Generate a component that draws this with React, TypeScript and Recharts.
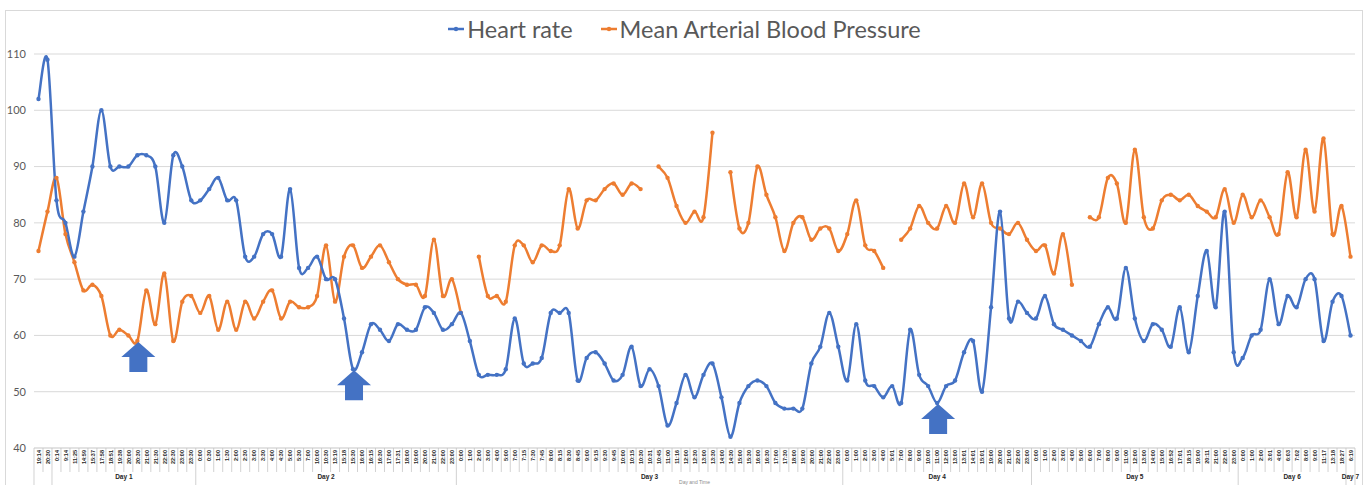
import React from 'react';
import {
  LineChart,
  Line,
  XAxis,
  YAxis,
  CartesianGrid,
  ReferenceDot,
} from 'recharts';

// time labels, grouped by day (first group has no day label)
const TIMES_D0 = ['19:14', '20:30'];
const TIMES_D1 = ['0:14', '9:14', '11:25', '14:59', '15:37', '17:58', '18:51', '19:38', '20:00', '20:30', '21:00', '21:30', '22:00', '22:30', '23:00', '23:30'];
const TIMES_D2 = ['0:00', '0:30', '1:00', '1:30', '2:00', '2:30', '3:00', '3:30', '4:00', '4:30', '5:00', '5:30', '7:00', '10:00', '10:30', '13:19', '15:18', '15:30', '16:00', '16:15', '16:30', '17:00', '17:31', '18:00', '19:00', '20:00', '21:00', '22:00', '23:00'];
const TIMES_D3 = ['0:00', '1:00', '2:00', '3:00', '4:00', '5:00', '7:00', '7:15', '7:30', '7:45', '8:00', '8:15', '8:30', '8:45', '9:00', '9:15', '9:30', '9:45', '10:00', '10:15', '10:30', '10:31', '10:45', '11:00', '11:16', '12:00', '12:30', '13:00', '13:30', '14:00', '14:30', '15:00', '15:30', '16:00', '16:30', '17:00', '17:30', '18:00', '19:00', '20:00', '21:00', '22:00', '23:00'];
const TIMES_D4 = ['0:00', '1:00', '2:00', '3:00', '4:00', '5:01', '7:00', '8:00', '9:00', '10:00', '11:00', '12:00', '13:00', '13:01', '14:01', '15:01', '19:00', '20:00', '21:00', '22:00', '23:00'];
const TIMES_D5 = ['0:00', '1:00', '2:00', '3:00', '4:00', '5:00', '6:00', '7:00', '8:00', '9:00', '11:00', '12:00', '13:00', '14:00', '15:00', '16:52', '17:01', '18:15', '19:00', '20:11', '21:00', '22:00', '23:00'];
const TIMES_D6 = ['0:00', '1:00', '2:00', '3:01', '4:00', '6:03', '7:02', '8:00', '9:00', '11:17', '13:18', '18:27'];
const TIMES_D7 = ['6:19'];

const DAY_NAMES = ['', 'Day 1', 'Day 2', 'Day 3', 'Day 4', 'Day 5', 'Day 6', 'Day 7'];
const DAY_TIMES = [TIMES_D0, TIMES_D1, TIMES_D2, TIMES_D3, TIMES_D4, TIMES_D5, TIMES_D6, TIMES_D7];

const HEART_RATE = [
  102, 109, 84, 80, 74, 82, 90, 100, 90, 90,
  90, 92, 92, 90, 80, 92, 90, 84, 84, 86,
  88, 84, 84, 74, 74, 78, 78, 74, 86, 72,
  72, 74, 70, 70, 63, 54, 57, 62, 61, 59,
  62, 61, 61, 65, 64, 61, 62, 64, 59, 53,
  53, 53, 54, 63, 55, 55, 56, 64, 64, 64,
  52, 56, 57, 55, 52, 53, 58, 51, 54, 51,
  44, 48, 53, 49, 53, 55, 49, 42, 48, 51,
  52, 51, 48, 47, 47, 47, 55, 58, 64, 58,
  52, 62, 52, 51, 49, 51, 48, 61, 53, 51,
  48, 51, 52, 57, 59, 50, 65, 82, 63, 66,
  64, 63, 67, 62, 61, 60, 59, 58, 62, 65,
  63, 72, 63, 59, 62, 61, 58, 65, 57, 67,
  75, 65, 82, 57, 56, 60, 61, 70, 62, 67,
  65, 70, 70, 59, 66, 67, 60,
];

const MEAN_ARTERIAL = [
  75, 82, 88, 78, 73, 68, 69, 67, 60, 61,
  60, 59, 68, 62, 71, 59, 66, 67, 64, 67,
  61, 66, 61, 66, 63, 66, 68, 63, 66, 65,
  65, 67, 76, 66, 74, 76, 72, 74, 76, 73,
  70, 69, 69, 67, 77, 67, 70, 64, null, 74,
  67, 67, 66, 76, 76, 73, 76, 75, 76, 86,
  79, 84, 84, 86, 87, 85, 87, 86, null, 90,
  88, 83, 80, 82, 81, 96, null, 89, 79, 80,
  90, 85, 81, 75, 80, 81, 77, 79, 79, 75,
  78, 84, 76, 75, 72, null, 77, 79, 83, 80,
  79, 83, 80, 87, 81, 87, 80, 79, 78, 80,
  77, 75, 76, 71, 78, 69, null, 81, 81, 88,
  87, 80, 93, 81, 79, 84, 85, 84, 85, 83,
  82, 81, 86, 80, 85, 81, 84, 81, 78, 89,
  81, 93, 82, 95, 78, 83, 74,
];

const Y_TICKS = [40, 50, 60, 70, 80, 90, 100, 110];

// arrow annotations (index, value)
const ARROWS = [
  { i: 11, v: 59 },
  { i: 35, v: 54 },
  { i: 100, v: 48 },
];

const BLUE = '#4472C4';
const ORANGE = '#ED7D31';

const W = 1369;
const H = 485;
const PLOT_LEFT = 34;
const PLOT_RIGHT = 1355;
const PLOT_TOP = 54;
const AXIS_H = 37;
const PLOT_BOTTOM = H - AXIS_H;

const TIMES = DAY_TIMES.flat();
const N = TIMES.length;
const BAND = (PLOT_RIGHT - PLOT_LEFT) / N;

const groupOf: number[] = [];
const groupStart: number[] = [];
DAY_TIMES.forEach((g, gi) => {
  groupStart.push(groupOf.length);
  g.forEach(() => groupOf.push(gi));
});

const data = TIMES.map((t, i) => ({
  id: i,
  time: t,
  hr: HEART_RATE[i],
  map: MEAN_ARTERIAL[i],
}));

// Excel-like smoothing (catmull-rom style bezier)
const excelSmooth = (context: any) => {
  let pts: number[][] = [];
  return {
    areaStart() {},
    areaEnd() {},
    lineStart() {
      pts = [];
    },
    point(x: number, y: number) {
      pts.push([+x, +y]);
    },
    lineEnd() {
      if (!pts.length) return;
      context.moveTo(pts[0][0], pts[0][1]);
      if (pts.length === 1) {
        context.lineTo(pts[0][0], pts[0][1]);
        return;
      }
      for (let k = 0; k < pts.length - 1; k++) {
        const p0 = pts[k - 1] || pts[k];
        const p1 = pts[k];
        const p2 = pts[k + 1];
        const p3 = pts[k + 2] || p2;
        context.bezierCurveTo(
          p1[0] + (p2[0] - p0[0]) / 6,
          p1[1] + (p2[1] - p0[1]) / 6,
          p2[0] - (p3[0] - p1[0]) / 6,
          p2[1] - (p3[1] - p1[1]) / 6,
          p2[0],
          p2[1]
        );
      }
    },
  };
};

const AxisTick = (props: any) => {
  const { x, payload } = props;
  const i = payload.value as number;
  const left = x - BAND / 2;
  const g = groupOf[i];
  const isStart = groupStart[g] === i;
  const size = DAY_TIMES[g].length;
  return (
    <g>
      <line x1={left} x2={left} y1={PLOT_BOTTOM} y2={isStart ? H : 472} stroke="#bfbfbf" strokeWidth={0.7} />
      {i === N - 1 && (
        <line x1={x + BAND / 2} x2={x + BAND / 2} y1={PLOT_BOTTOM} y2={H} stroke="#bfbfbf" strokeWidth={0.7} />
      )}
      <text
        transform={`translate(${x + 2.2},${PLOT_BOTTOM + 2}) rotate(-90)`}
        textAnchor="end"
        fontSize={5.5}
        fontWeight={700}
        fill="#262626"
        fontFamily="Liberation Sans, Arial"
      >
        {TIMES[i]}
      </text>
      {isStart && DAY_NAMES[g] && (
        <text
          x={left + (size * BAND) / 2}
          y={479}
          textAnchor="middle"
          fontSize={6.5}
          fontWeight={700}
          fill="#262626"
          fontFamily="Liberation Sans, Arial"
        >
          {DAY_NAMES[g]}
        </text>
      )}
    </g>
  );
};

const Arrow = (props: any) => {
  const { cx, cy } = props;
  const tx = cx + 1;
  const ty = cy + 1;
  const pts = [
    [0, 0], [17, 15], [9, 15], [9, 30], [-9, 30], [-9, 15], [-17, 15],
  ]
    .map(([dx, dy]) => `${tx + dx},${ty + dy}`)
    .join(' ');
  return <polygon points={pts} fill={BLUE} />;
};

const LegendIcon = ({ color }: { color: string }) => (
  <svg width={16} height={10} style={{ marginRight: 3 }}>
    <line x1={0} x2={16} y1={5} y2={5} stroke={color} strokeWidth={2.5} />
    <circle cx={8} cy={5} r={2.2} fill={color} />
  </svg>
);

const App = () => {
  return (
    <div style={{ position: 'absolute', left: 0, top: 0, width: W, height: H, background: '#fff', overflow: 'hidden' }}>
      <div
        style={{
          position: 'absolute',
          left: 5,
          top: 10,
          width: 1356,
          height: 490,
          border: '1px solid #d9d9d9',
          pointerEvents: 'none',
        }}
      />
      <div
        style={{
          position: 'absolute',
          top: 15,
          left: 0,
          width: W,
          display: 'flex',
          justifyContent: 'center',
          alignItems: 'center',
          fontFamily: 'Lato, sans-serif',
          fontSize: 23.5,
          lineHeight: '28px',
          color: '#595959',
        }}
      >
        <span style={{ display: 'flex', alignItems: 'center', marginRight: 28 }}>
          <LegendIcon color={BLUE} />
          Heart rate
        </span>
        <span style={{ display: 'flex', alignItems: 'center' }}>
          <LegendIcon color={ORANGE} />
          Mean Arterial Blood Pressure
        </span>
      </div>
      <LineChart
        width={W}
        height={H}
        data={data}
        margin={{ top: PLOT_TOP, right: W - PLOT_RIGHT, bottom: 0, left: 0 }}
        style={{ position: 'absolute', left: 0, top: 0 }}
      >
        <CartesianGrid vertical={false} stroke="#d9d9d9" />
        <XAxis
          dataKey="id"
          scale="band"
          interval={0}
          height={AXIS_H}
          tickLine={false}
          axisLine={{ stroke: '#d9d9d9' }}
          tick={<AxisTick />}
          label={{
            value: 'Day and Time',
            position: 'insideBottom',
            offset: 1,
            fontSize: 5,
            fill: '#8c8c8c',
            fontFamily: 'Liberation Sans, Arial',
          }}
        />
        <YAxis
          width={PLOT_LEFT}
          domain={[40, 110]}
          ticks={Y_TICKS}
          tickSize={0}
          tickMargin={8}
          axisLine={false}
          tickLine={false}
          tick={{ fontSize: 11, fill: '#595959', fontFamily: 'Lato, sans-serif' }}
        />
        <Line
          dataKey="map"
          type={excelSmooth as any}
          stroke={ORANGE}
          strokeWidth={2.5}
          dot={{ r: 2.2, fill: ORANGE, stroke: ORANGE, strokeWidth: 0 }}
          connectNulls={false}
          isAnimationActive={false}
        />
        <Line
          dataKey="hr"
          type={excelSmooth as any}
          stroke={BLUE}
          strokeWidth={2.5}
          dot={{ r: 2.2, fill: BLUE, stroke: BLUE, strokeWidth: 0 }}
          isAnimationActive={false}
        />
        {ARROWS.map((a) => (
          <ReferenceDot key={a.i} x={a.i} y={a.v} shape={<Arrow />} ifOverflow="visible" />
        ))}
      </LineChart>
    </div>
  );
};

export default App;
